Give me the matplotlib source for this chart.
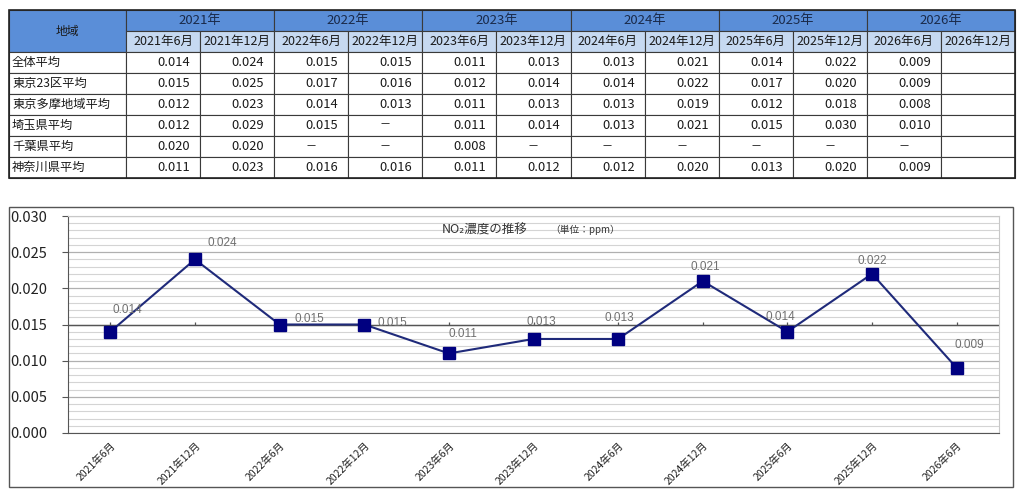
import matplotlib.pyplot as plt
import matplotlib.patches as mpatches
import numpy as np

plt.rcParams['font.family'] = ['Noto Sans CJK JP', 'DejaVu Sans']

NA = float('nan')   # "－" in the table
years = ['2021年', '2022年', '2023年', '2024年', '2025年', '2026年']
periods = ['2021年6月', '2021年12月', '2022年6月', '2022年12月', '2023年6月', '2023年12月',
           '2024年6月', '2024年12月', '2025年6月', '2025年12月', '2026年6月', '2026年12月']
regions = ['全体平均', '東京23区平均', '東京多摩地域平均', '埼玉県平均', '千葉県平均', '神奈川県平均']

zentai = [0.014, 0.024, 0.015, 0.015, 0.011, 0.013, 0.013, 0.021, 0.014, 0.022, 0.009, None]
tokyo23 = [0.015, 0.025, 0.017, 0.016, 0.012, 0.014, 0.014, 0.022, 0.017, 0.020, 0.009, None]
tama = [0.012, 0.023, 0.014, 0.013, 0.011, 0.013, 0.013, 0.019, 0.012, 0.018, 0.008, None]
saitama = [0.012, 0.029, 0.015, NA, 0.011, 0.014, 0.013, 0.021, 0.015, 0.030, 0.010, None]
chiba = [0.020, 0.020, NA, NA, 0.008, NA, NA, NA, NA, NA, NA, None]
kanagawa = [0.011, 0.023, 0.016, 0.016, 0.011, 0.012, 0.012, 0.020, 0.013, 0.020, 0.009, None]
table_rows = [zentai, tokyo23, tama, saitama, chiba, kanagawa]

chart_labels = periods[:11]
chart_values = zentai[:11]
# label offsets in pixels (placement only)
label_offsets = [(17, 22), (27, 16), (30, 6), (28, 2), (14, 19), (8, 17),
                 (1, 21), (3, 14), (-7, 15), (0, 13), (13, 23)]

fig = plt.figure(figsize=(10.24, 4.96), dpi=100)

# ---------- table (drawn in pixel coordinates) ----------
tax = fig.add_axes([0, 0, 1, 1])
tax.set_xlim(0, 1024)
tax.set_ylim(496, 0)
tax.axis('off')

x0, x1, xr = 9, 126, 1015
cw = (xr - x1) / 12
row_y = [10, 31, 52, 73, 94, 115, 136, 157, 178]
dark_blue = '#5a8ed8'
light_blue = '#c6d9f1'
edge = '#3a3a3a'
tsize = 9

# header
tax.add_patch(mpatches.Rectangle((x0, row_y[0]), x1 - x0, row_y[2] - row_y[0],
                                 facecolor=dark_blue, edgecolor=edge, lw=0.8))
tax.text((x0 + x1) / 2, (row_y[0] + row_y[2]) / 2, '地域', ha='center', va='center',
         fontsize=8.5, color='#1a1a1a')
for i, y in enumerate(years):
    xs = x1 + 2 * i * cw
    tax.add_patch(mpatches.Rectangle((xs, row_y[0]), 2 * cw, row_y[1] - row_y[0],
                                     facecolor=dark_blue, edgecolor=edge, lw=0.8))
    tax.text(xs + cw, (row_y[0] + row_y[1]) / 2, y, ha='center', va='center',
             fontsize=9.5, color='#1a2a4a')
for j, p in enumerate(periods):
    xs = x1 + j * cw
    tax.add_patch(mpatches.Rectangle((xs, row_y[1]), cw, row_y[2] - row_y[1],
                                     facecolor=light_blue, edgecolor=edge, lw=0.8))
    tax.text(xs + cw / 2, (row_y[1] + row_y[2]) / 2, p, ha='center', va='center',
             fontsize=tsize, color='#1a1a1a')

# body
for r, (name, vals) in enumerate(zip(regions, table_rows)):
    ya, yb = row_y[r + 2], row_y[r + 3]
    yc = (ya + yb) / 2
    tax.add_patch(mpatches.Rectangle((x0, ya), x1 - x0, yb - ya,
                                     facecolor='white', edgecolor=edge, lw=0.8))
    tax.text(x0 + 3, yc, name, ha='left', va='center', fontsize=8.8, color='#1a1a1a')
    for j, v in enumerate(vals):
        xs = x1 + j * cw
        tax.add_patch(mpatches.Rectangle((xs, ya), cw, yb - ya,
                                         facecolor='white', edgecolor=edge, lw=0.8))
        if v is None:
            continue
        if np.isnan(v):
            tax.text(xs + cw / 2, yc, '－', ha='center', va='center', fontsize=8, color='#1a1a1a')
        else:
            tax.text(xs + cw - 10, yc, f'{v:.3f}', ha='right', va='center',
                     fontsize=9.3, color='#1a1a1a')
tax.add_patch(mpatches.Rectangle((x0, row_y[0]), xr - x0, row_y[-1] - row_y[0],
                                 facecolor='none', edgecolor='#222222', lw=1.2))

# chart outer frame
tax.add_patch(mpatches.Rectangle((9, 207), 1004, 280, facecolor='none',
                                 edgecolor='#555555', lw=1.0))

# ---------- line chart ----------
ax = fig.add_axes([68 / 1024, (496 - 433) / 496, (999 - 68) / 1024, (433 - 216) / 496])
xpos = np.arange(len(chart_labels))
ax.set_xlim(-0.5, len(chart_labels) - 0.5)
ax.set_ylim(0, 0.030)

ax.set_yticks(np.arange(0, 0.0301, 0.005))
ax.set_yticks(np.arange(0, 0.0301, 0.001), minor=True)
ax.set_yticklabels([f'{v:.3f}' for v in np.arange(0, 0.0301, 0.005)],
                   fontsize=10.5, color='#222222')
ax.grid(which='minor', axis='y', color='#d4d4d4', lw=0.8)
ax.grid(which='major', axis='y', color='#b0b0b0', lw=0.9)
ax.tick_params(axis='y', which='major', length=4, color='#555555', pad=11)
ax.tick_params(axis='y', which='minor', length=0)
ax.set_axisbelow(True)

ax.set_xticks(xpos)
ax.set_xticklabels(chart_labels, rotation=45, ha='right', rotation_mode='anchor',
                   fontsize=7.5, color='#222222')
ax.tick_params(axis='x', length=0, pad=5)

for side in ['top', 'right']:
    ax.spines[side].set_color('#c8c8c8')
ax.spines['left'].set_color('#555555')
ax.spines['bottom'].set_color('#555555')

# horizontal axis crossing at 0.015
ax.axhline(0.015, color='#555555', lw=1.0, zorder=1)
ax.vlines(xpos, 0.015, 0.0153, color='#555555', lw=0.9, zorder=1)

ax.plot(xpos, chart_values, color='#1f2a7a', lw=1.5, marker='s', markersize=8,
        markerfacecolor='#000080', markeredgecolor='#000080', zorder=3)
for x, v, (dx, dy) in zip(xpos, chart_values, label_offsets):
    ax.annotate(f'{v:.3f}', (x, v), xytext=(dx, dy), textcoords='offset pixels',
                ha='center', va='center', fontsize=8.5, color='#707070',
                family=['Liberation Sans', 'DejaVu Sans'])

ax.text(0.447, 0.935, 'NO₂濃度の推移', transform=ax.transAxes, ha='center', va='center',
        fontsize=9, color='#333333')
ax.text(0.555, 0.935, '（単位：ppm）', transform=ax.transAxes, ha='center', va='center',
        fontsize=7, color='#333333')

fig.savefig('out.png', dpi=100)
